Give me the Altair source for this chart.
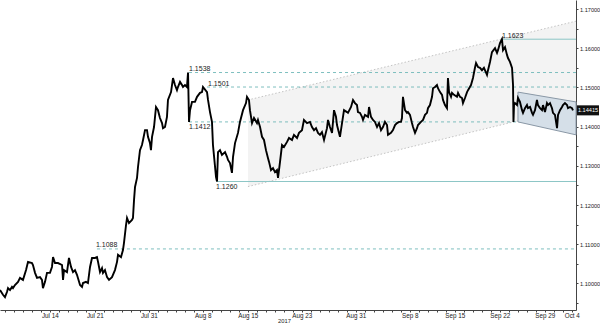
import altair as alt
import pandas as pd
import numpy as np

# ---- price series (t = trading days since 2017-07-07, price = EUR/USD) ----
t = [-0.53,-0.20,0.02,0.24,0.36,0.58,0.80,0.91,1.13,1.47,1.69,2.02,2.36,2.58,3.02,3.13,3.36,3.58,3.91,4.13,
     4.24,4.47,4.69,5.02,5.24,5.36,5.58,5.91,6.36,6.47,6.58,6.91,7.13,7.36,7.58,7.80,8.02,8.36,8.58,8.69,
     9.02,9.24,9.47,9.69,10.02,10.24,10.36,10.58,10.80,10.91,11.13,11.36,11.58,11.91,12.24,12.47,12.58,12.91,13.13,13.24,
     13.47,13.58,13.80,14.13,14.24,14.36,14.47,14.69,14.80,15.02,15.24,15.36,15.58,15.80,15.91,16.13,16.24,16.36,16.58,16.80,
     17.02,17.24,17.47,17.58,17.80,18.02,18.13,18.47,18.69,18.91,19.13,19.24,19.47,19.69,19.80,20.02,20.24,20.36,20.47,20.58,
     20.80,21.13,21.36,21.69,21.91,22.02,22.47,22.58,22.80,23.02,23.13,23.47,23.58,23.69,23.91,24.13,24.47,24.69,24.80,25.02,
     25.24,25.36,25.58,25.91,26.13,26.47,26.80,26.91,27.13,27.24,27.47,27.69,28.02,28.13,28.36,28.58,28.80,29.02,29.24,29.36,
     29.58,29.80,30.02,30.24,30.36,30.58,30.80,31.02,31.36,31.58,31.91,32.13,32.47,32.69,33.02,33.24,33.58,33.91,34.13,34.36,
     34.58,34.80,35.02,35.24,35.47,35.80,35.91,36.13,36.36,36.58,36.80,36.91,37.24,37.47,37.69,38.02,38.13,38.47,38.69,38.91,
     39.13,39.24,39.47,39.69,39.80,40.02,40.36,40.47,40.69,40.91,41.13,41.36,41.58,41.80,42.02,42.24,42.47,42.58,42.91,43.13,
     43.36,43.58,43.80,44.02,44.13,44.24,44.47,44.69,44.80,45.02,45.24,45.36,45.58,45.80,45.91,46.24,46.47,46.69,46.91,47.02,
     47.24,47.47,47.58,47.80,48.02,48.13,48.36,48.58,48.69,48.91,49.13,49.24,49.36,49.58,49.69,49.91,50.24,50.36,50.58,50.80,
     50.91,51.13,51.36,51.47,51.80,52.02,52.24,52.36,52.58,52.80,53.02,53.24,53.58,53.69,53.91,54.13,54.47,54.69,54.80,55.02,
     55.24,55.36,55.58,55.80,55.91,56.13,56.36,56.47,56.52,56.58,56.69,56.91,57.02,57.24,57.47,57.58,57.80,58.02,58.13,58.36,
     58.58,58.69,58.91,59.13,59.24,59.47,59.69,59.80,60.02,60.24,60.36,60.58,60.80,60.91,61.13,61.36,61.47,61.69,61.91,62.02,
     62.24,62.47,62.58,62.80,63.02,63.13]
price = [1.0983,1.0971,1.0965,1.0978,1.0988,1.0983,1.0991,1.0988,1.0996,1.1004,1.1014,1.1009,1.1034,1.1055,1.1052,1.1047,1.1027,1.1014,1.1016,1.1009,
         1.0988,1.1004,1.1027,1.1027,1.1042,1.1067,1.1052,1.1052,1.1047,1.1009,1.1034,1.1029,1.1065,1.1042,1.1029,1.1034,1.1022,1.0996,1.0991,1.1001,
         1.1004,1.1001,1.1042,1.1065,1.1065,1.1067,1.1055,1.1029,1.1039,1.1027,1.1034,1.1016,1.1009,1.1016,1.1034,1.1055,1.1073,1.1067,1.1085,1.1103,
         1.1149,1.1167,1.1154,1.1162,1.1167,1.1213,1.1246,1.1269,1.1297,1.1340,1.1353,1.1366,1.1391,1.1391,1.1374,1.1358,1.1340,1.1374,1.1399,1.1450,
         1.1442,1.1422,1.1409,1.1396,1.1399,1.1425,1.1468,1.1488,1.1524,1.1506,1.1493,1.1501,1.1514,1.1506,1.1501,1.1506,1.1501,1.1538,1.1412,1.1442,
         1.1463,1.1463,1.1476,1.1486,1.1488,1.1501,1.1488,1.1468,1.1437,1.1412,1.1353,1.1271,1.1260,1.1335,1.1340,1.1328,1.1335,1.1323,1.1315,1.1307,
         1.1282,1.1323,1.1358,1.1384,1.1412,1.1442,1.1460,1.1476,1.1468,1.1442,1.1409,1.1422,1.1409,1.1417,1.1399,1.1374,1.1366,1.1340,1.1320,1.1310,
         1.1289,1.1294,1.1284,1.1289,1.1269,1.1310,1.1353,1.1348,1.1361,1.1371,1.1366,1.1379,1.1371,1.1384,1.1391,1.1417,1.1409,1.1412,1.1399,1.1391,
         1.1396,1.1384,1.1379,1.1386,1.1366,1.1396,1.1417,1.1399,1.1384,1.1442,1.1425,1.1404,1.1374,1.1409,1.1442,1.1437,1.1435,1.1450,1.1468,1.1460,
         1.1455,1.1437,1.1435,1.1425,1.1417,1.1430,1.1425,1.1450,1.1425,1.1417,1.1412,1.1399,1.1409,1.1391,1.1399,1.1412,1.1404,1.1379,1.1384,1.1391,
         1.1404,1.1409,1.1412,1.1412,1.1422,1.1476,1.1442,1.1435,1.1437,1.1430,1.1409,1.1399,1.1384,1.1396,1.1404,1.1412,1.1417,1.1430,1.1435,1.1447,
         1.1455,1.1476,1.1498,1.1501,1.1506,1.1498,1.1488,1.1481,1.1468,1.1455,1.1447,1.1524,1.1488,1.1476,1.1486,1.1481,1.1476,1.1486,1.1476,1.1473,
         1.1460,1.1473,1.1488,1.1493,1.1506,1.1524,1.1550,1.1562,1.1552,1.1550,1.1544,1.1550,1.1532,1.1544,1.1565,1.1590,1.1600,1.1588,1.1595,1.1613,
         1.1623,1.1595,1.1603,1.1583,1.1575,1.1565,1.1550,1.1506,1.1412,1.1455,1.1460,1.1455,1.1473,1.1463,1.1442,1.1435,1.1447,1.1455,1.1447,1.1450,
         1.1435,1.1430,1.1442,1.1468,1.1455,1.1447,1.1442,1.1455,1.1437,1.1460,1.1455,1.1460,1.1447,1.1435,1.1430,1.1396,1.1430,1.1442,1.1450,1.1455,
         1.1460,1.1455,1.1447,1.1450,1.1447,1.14415]

# ---- x tick labels ----
tick_dates = ["2017-07-14", "2017-07-21", "2017-07-31", "2017-08-08", "2017-08-15", "2017-08-23",
              "2017-08-31", "2017-09-08", "2017-09-15", "2017-09-22", "2017-09-29", "2017-10-04"]
tick_text = ["Jul 14", "Jul 21", "Jul 31", "Aug 8", "Aug 15", "Aug 23",
             "Aug 31", "Sep 8", "Sep 15", "Sep 22", "Sep 29", "Oct 4"]
tick_pos = [int(np.busday_count("2017-07-07", d)) for d in tick_dates]
year_label = "2017"

# ---- horizontal levels ----
level_val = [1.1623, 1.1538, 1.1501, 1.1412, 1.1260, 1.1088]
level_start = [55.24, 20.47, 22.47, 20.47, 23.58, 10.24]
level_solid = [True, False, False, False, True, False]
label_t = [55.24, 20.47, 22.58, 20.47, 23.47, 10.13]
label_above = [True, True, True, False, False, True]

# ---- rising channel ----
ch_t = [27.02, 63.47]
ch_upper = [1.1468, 1.1669]
ch_lower = [1.1247, 1.1451]
ch_lower_end_t = 57.02
# ---- falling box ----
box_t = [57.02, 63.47]
box_top = [1.1488, 1.1463]
box_bot = [1.1412, 1.1379]

X_MIN, X_MAX = -0.533, 63.467
Y_MIN, Y_MAX = 1.09322, 1.17230
W, H = 576, 310

FONT = "Liberation Sans"
AX_COL = "#444444"

xs = alt.Scale(domain=[X_MIN, X_MAX], nice=False, zero=False)
ys = alt.Scale(domain=[Y_MIN, Y_MAX], nice=False, zero=False)

day_vals = list(range(0, 64))
pos_js = "[" + ",".join(str(p) for p in tick_pos) + "]"
txt_js = "[" + ",".join("'%s'" % s for s in tick_text) + "]"
x_label_expr = f"indexof({pos_js}, datum.value) >= 0 ? {txt_js}[indexof({pos_js}, datum.value)] : ''"

y_vals = [round(1.095 + 0.005 * i, 3) for i in range(16)]
y_label_expr = "abs(round(datum.value*100) - datum.value*100) < 0.01 ? format(datum.value, '.5f') : ''"

x_axis = alt.Axis(values=day_vals, labelExpr=x_label_expr, labelOverlap=False, labelFlush=True,
                  grid=False, tickSize=2, tickColor=AX_COL, domainColor=AX_COL, labelFont=FONT,
                  labelFontSize=6.3, labelColor="#222222", labelPadding=0.5,
                  title=year_label, titleFont=FONT, titleFontSize=5.8, titleFontWeight="normal",
                  titleColor="#222222", titleY=12.5, titleBaseline="alphabetic", titleX=284)
y_axis = alt.Axis(orient="right", values=y_vals, labelExpr=y_label_expr, labelOverlap=False,
                  grid=False, tickSize=2, tickColor=AX_COL, domainColor=AX_COL, labelFont=FONT,
                  labelFontSize=5.6, labelColor="#222222", labelPadding=1.5, title=None)


def X(f="t"):
    return alt.X(f + ":Q", scale=xs, axis=x_axis)


def Y(f):
    return alt.Y(f + ":Q", scale=ys, axis=y_axis)


price_df = pd.DataFrame({"t": t, "y": price})
ch_df = pd.DataFrame({"t": ch_t, "y": ch_upper, "y2": ch_lower})
lo_end = ch_lower[0] + (ch_lower[1] - ch_lower[0]) * (ch_lower_end_t - ch_t[0]) / (ch_t[1] - ch_t[0])
ch_lo_df = pd.DataFrame({"t": [ch_t[0], ch_lower_end_t], "y": [ch_lower[0], lo_end]})
box_df = pd.DataFrame({"t": box_t, "y": box_top, "y2": box_bot})
lev_df = pd.DataFrame({"y": level_val, "t": level_start, "t2": [X_MAX] * len(level_val),
                       "solid": level_solid, "lt": label_t, "above": label_above,
                       "txt": ["%.4f" % v for v in level_val]})
last_df = pd.DataFrame({"y": [price[-1]], "txt": ["%.5f" % price[-1]]})

channel = alt.Chart(ch_df).mark_area(color="#f3f3f3", opacity=1).encode(x=X(), y=Y("y"), y2="y2:Q")
ch_up_line = alt.Chart(ch_df).mark_line(color="#c4c4c4", strokeDash=[1.5, 2], strokeWidth=1).encode(
    x=X(), y=Y("y"))
ch_lo_line = alt.Chart(ch_lo_df).mark_line(color="#c4c4c4", strokeDash=[1.5, 2], strokeWidth=1).encode(
    x=X(), y=Y("y"))

lev_dashed = alt.Chart(lev_df).transform_filter("!datum.solid").mark_rule(
    color="#6fb8b8", strokeDash=[3, 3], strokeWidth=0.9).encode(x=X(), x2="t2:Q", y=Y("y"))
lev_solid = alt.Chart(lev_df).transform_filter("datum.solid").mark_rule(
    color="#8cc6c6", strokeWidth=1).encode(x=X(), x2="t2:Q", y=Y("y"))

box = alt.Chart(box_df).mark_area(color="#d5dfe8", opacity=1, stroke="#8a98a6", strokeWidth=1).encode(
    x=X(), y=Y("y"), y2="y2:Q")

line = alt.Chart(price_df).mark_line(color="#000000", strokeWidth=1.9, strokeJoin="miter").encode(
    x=X(), y=Y("y"))

lab_above = alt.Chart(lev_df).transform_filter("datum.above").mark_text(
    align="left", baseline="alphabetic", dy=-1.5, fontSize=7, font=FONT, color="#222222").encode(
    x=X("lt"), y=Y("y"), text="txt:N")
lab_below = alt.Chart(lev_df).transform_filter("!datum.above").mark_text(
    align="left", baseline="top", dy=1.5, fontSize=7, font=FONT, color="#222222").encode(
    x=X("lt"), y=Y("y"), text="txt:N")

last_box = alt.Chart(last_df).transform_calculate(hi="datum.y + 0.00128", lo="datum.y - 0.00128").mark_rect(
    color="#111111").encode(x=alt.value(577), x2=alt.value(599), y=Y("hi"), y2="lo:Q")
last_txt = alt.Chart(last_df).mark_text(align="center", baseline="middle", fontSize=5.6, font=FONT,
                                        color="#ffffff").encode(x=alt.value(588), y=Y("y"), text="txt:N")

chart = alt.layer(channel, ch_up_line, ch_lo_line, lev_dashed, lev_solid, box, line,
                  lab_above, lab_below, last_box, last_txt).properties(
    width=W, height=H,
    autosize=alt.AutoSizeParams(type="none"),
    padding={"left": 0, "top": 0, "right": 24, "bottom": 13},
    background="#ffffff",
).configure_view(strokeWidth=0)

chart.save("out.html", embed_options={"renderer": "svg", "actions": False})
